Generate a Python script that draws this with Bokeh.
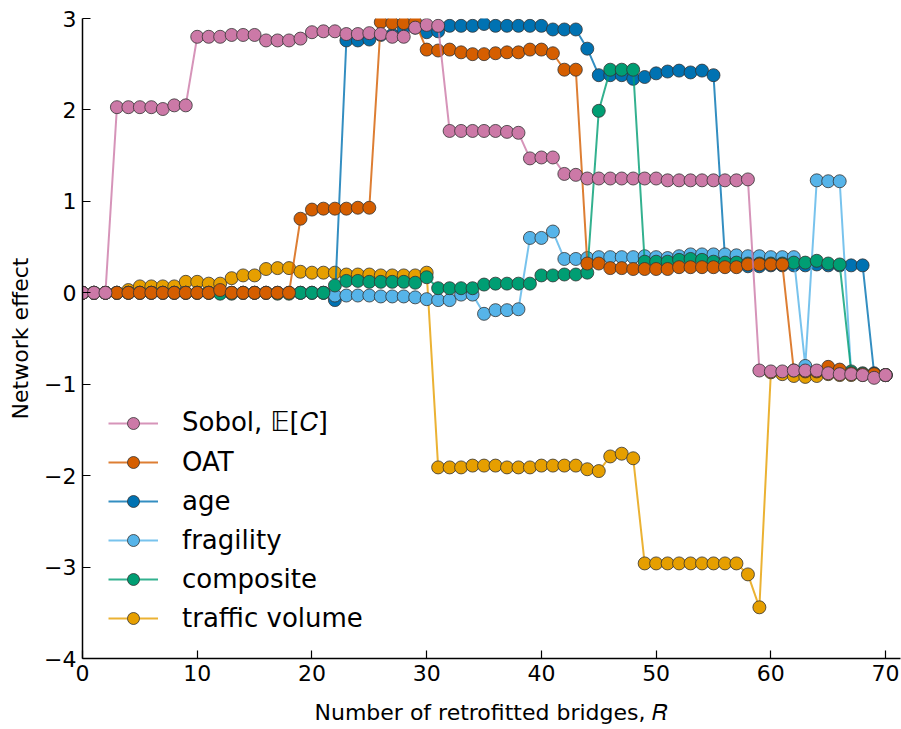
from bokeh.plotting import figure
from bokeh.models import Range1d, FixedTicker, Legend, LegendItem
from bokeh.embed import file_html
from bokeh.resources import INLINE

R = list(range(71))

sobol = [0, 0, 0, 2.03, 2.03, 2.03, 2.03, 2.01, 2.05, 2.05,
         2.80, 2.80, 2.80, 2.82, 2.82, 2.82, 2.76, 2.76, 2.76, 2.78,
         2.85, 2.86, 2.86, 2.83, 2.83, 2.84, 2.83, 2.80, 2.80, 2.90,
         2.93, 2.92, 1.77, 1.77, 1.77, 1.77, 1.77, 1.76, 1.75, 1.47,
         1.48, 1.48, 1.30, 1.29, 1.25, 1.25, 1.25, 1.25, 1.25, 1.25,
         1.25, 1.23, 1.23, 1.23, 1.23, 1.23, 1.23, 1.23, 1.24, -0.85,
         -0.86, -0.86, -0.85, -0.85, -0.85, -0.88, -0.89, -0.89, -0.90, -0.93,
         -0.90]

oat = [0, 0, 0, 0, 0, 0, 0, 0, 0, 0,
       0, 0, 0.03, 0, 0, 0, 0, 0, 0, 0.81,
       0.91, 0.92, 0.92, 0.92, 0.93, 0.93, 2.96, 2.95, 2.95, 2.96,
       2.66, 2.65, 2.66, 2.63, 2.61, 2.61, 2.62, 2.63, 2.63, 2.66,
       2.66, 2.62, 2.44, 2.44, 0.32, 0.32, 0.27, 0.27, 0.26, 0.26,
       0.26, 0.26, 0.28, 0.28, 0.28, 0.28, 0.28, 0.28, 0.31, 0.31,
       0.31, 0.31, -0.85, -0.86, -0.86, -0.81, -0.84, -0.88, -0.89, -0.89,
       -0.90]

age = [0, 0, 0, 0, 0, 0, 0, 0, 0, 0,
       0, 0, 0, 0, 0, 0, 0, 0, 0, 0,
       0, 0, -0.08, 2.76, 2.76, 2.77, 2.82, 2.82, 2.88, 2.90,
       2.85, 2.86, 2.92, 2.92, 2.92, 2.94, 2.92, 2.92, 2.92, 2.92,
       2.92, 2.88, 2.88, 2.88, 2.67, 2.38, 2.38, 2.38, 2.34, 2.36,
       2.40, 2.42, 2.43, 2.41, 2.43, 2.38, 0.38, 0.30, 0.29, 0.29,
       0.30, 0.30, 0.30, 0.30, 0.31, 0.30, 0.30, 0.30, 0.30, -0.88,
       -0.90]

fragility = [0, 0, 0, 0, 0, 0, 0, 0, 0, 0,
             0, 0, 0, 0, 0, 0, 0, 0, 0, 0,
             0, 0, -0.03, -0.03, -0.03, -0.03, -0.04, -0.04, -0.04, -0.05,
             -0.07, -0.08, -0.08, -0.02, -0.02, -0.23, -0.19, -0.19, -0.18, 0.60,
             0.60, 0.67, 0.37, 0.37, 0.38, 0.39, 0.39, 0.39, 0.39, 0.40,
             0.39, 0.38, 0.40, 0.42, 0.42, 0.42, 0.42, 0.41, 0.40, 0.40,
             0.39, 0.39, 0.39, -0.80, 1.23, 1.22, 1.22, -0.88, -0.89, -0.90,
             -0.90]

composite = [0, 0, 0, 0, 0, 0, 0, 0, 0, 0,
             0, 0, -0.01, -0.01, 0, 0, 0, -0.01, -0.01, 0,
             0, 0, 0.08, 0.13, 0.13, 0.12, 0.12, 0.12, 0.12, 0.11,
             0.17, 0.05, 0.05, 0.05, 0.05, 0.09, 0.10, 0.10, 0.10, 0.10,
             0.19, 0.19, 0.20, 0.20, 0.22, 1.99, 2.44, 2.44, 2.44, 0.34,
             0.34, 0.34, 0.36, 0.37, 0.36, 0.34, 0.33, 0.33, 0.32, 0.32,
             0.32, 0.32, 0.33, 0.33, 0.35, 0.32, 0.31, -0.86, -0.88, -0.89,
             -0.90]

traffic = [0, 0, 0, 0, 0.03, 0.07, 0.07, 0.07, 0.07, 0.12,
           0.12, 0.10, 0.10, 0.16, 0.19, 0.19, 0.26, 0.27, 0.27, 0.23,
           0.22, 0.22, 0.22, 0.20, 0.20, 0.20, 0.19, 0.19, 0.19, 0.19,
           0.22, -1.91, -1.91, -1.91, -1.89, -1.89, -1.89, -1.91, -1.91, -1.91,
           -1.89, -1.89, -1.89, -1.89, -1.93, -1.95, -1.79, -1.76, -1.81, -2.96,
           -2.96, -2.96, -2.96, -2.96, -2.96, -2.96, -2.96, -2.96, -3.08, -3.44,
           -0.87, -0.89, -0.91, -0.92, -0.91, -0.89, -0.90, -0.90, -0.90, -0.91,
           -0.90]

labels = ["Sobol, \U0001D53C[\U0001D436]", "OAT", "age", "fragility", "composite", "traffic volume"]
series = [sobol, oat, age, fragility, composite, traffic]
colors = ["#CC79A7", "#D55E00", "#0072B2", "#56B4E9", "#009E73", "#E69F00"]
draw_order = [5, 2, 3, 4, 1, 0]

x_ticks = [0, 10, 20, 30, 40, 50, 60, 70]
y_ticks = [-4, -3, -2, -1, 0, 1, 2, 3]

p = figure(width=901, height=729, output_backend="svg", toolbar_location=None,
           x_range=Range1d(0, 71.3), y_range=Range1d(-4, 3),
           min_border_left=82, min_border_right=1, min_border_top=18, min_border_bottom=71)
p.outline_line_color = None
p.grid.visible = False
p.background_fill_color = "white"
p.border_fill_color = "white"

renderers = {}
for i in draw_order:
    ln = p.line(R, series[i], line_color=colors[i], line_width=2, line_alpha=0.8)
    sc = p.scatter(R, series[i], size=13, fill_color=colors[i], line_color="#333333",
                   line_width=1, line_alpha=0.8)
    renderers[i] = [ln, sc]

items = [LegendItem(label=labels[i], renderers=renderers[i]) for i in range(6)]
legend = Legend(items=items, location=(26, 25), orientation="vertical",
                glyph_width=50, glyph_height=30, label_height=30, spacing=9,
                label_standoff=24, padding=0, margin=0,
                label_text_font="DejaVu Sans", label_text_font_size="26px",
                label_text_color="black",
                background_fill_alpha=0, border_line_alpha=0)
p.add_layout(legend, "center")

for ax in (p.xaxis[0], p.yaxis[0]):
    ax.axis_line_color = "black"
    ax.axis_line_width = 1.5
    ax.major_tick_in = 8
    ax.major_tick_out = 0
    ax.major_tick_line_width = 1.2
    ax.minor_tick_line_color = None
    ax.major_label_text_font = "DejaVu Sans"
    ax.major_label_text_font_size = "22px"
    ax.major_label_text_color = "black"
    ax.axis_label_text_font = "DejaVu Sans"
    ax.axis_label_text_font_size = "22px"
    ax.axis_label_text_font_style = "normal"
    ax.axis_label_text_color = "black"

p.xaxis.ticker = FixedTicker(ticks=x_ticks)
p.yaxis.ticker = FixedTicker(ticks=y_ticks)
p.yaxis.major_label_overrides = {t: (str(t).replace("-", "\u2212")) for t in y_ticks}
p.xaxis.major_label_standoff = 6
p.yaxis.major_label_standoff = 6
p.xaxis.axis_label = "Number of retrofitted bridges, \U0001D445"
p.yaxis.axis_label = "Network effect"
p.xaxis.axis_label_standoff = 16
p.yaxis.axis_label_standoff = 8

open("out.html", "w").write(file_html(p, INLINE))
